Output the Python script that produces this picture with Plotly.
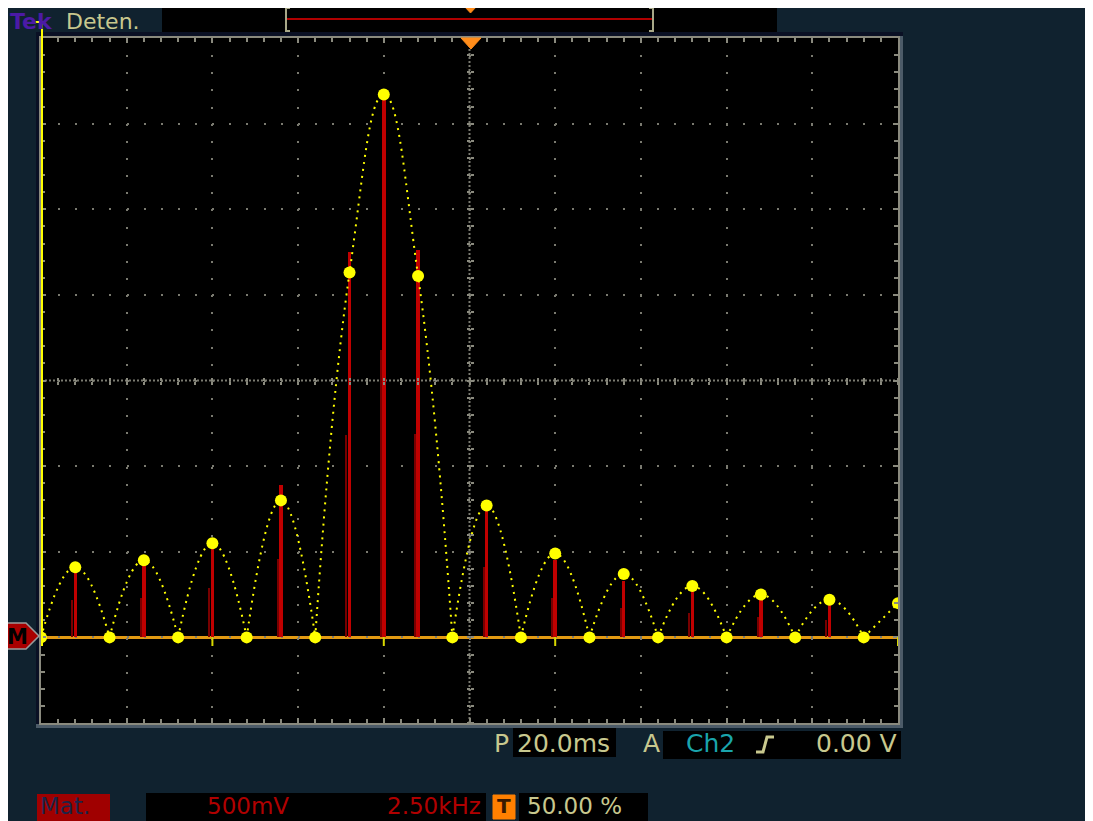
import plotly.graph_objects as go

# ---- data (FFT display: frequency in kHz, magnitude in V, 500 mV/div, 2.5 kHz/div) ----
freqs = list(range(26))
amp = [0, 0.41, 0, 0.45, 0, 0.55, 0, 0.80, 0, 2.13, 3.17, 2.11, 0, 0.77, 0,
       0.49, 0, 0.37, 0, 0.30, 0, 0.25, 0, 0.22, 0, 0.20]
stem_freqs = [1, 3, 5, 7, 9, 10, 11, 13, 15, 17, 19, 21, 23]
stem_main = [0.44, 0.47, 0.58, 0.89, 2.25, 3.17, 2.26, 0.75, 0.45, 0.33, 0.27, 0.23, 0.20]
stem_low = [0.22, 0.23, 0.29, 0.46, 1.18, 1.68, 1.19, 0.41, 0.23, 0.17, 0.14, 0.12, 0.10]
marker_freqs = [5, 10, 15, 25]

# ---- geometry (reference pixel coordinates; page body adds an 8px offset) ----
W, H = 1093, 821
OFF = 8
L, R, T, B = 41, 898, 38, 723
def px(x):
    return (x - L) / (R - L)
def py(y):
    return (B - y) / (B - T)

NAVY = "#10222f"
KHAKI = "#c8c88e"
GRID = "#7a7a70"
EDGE = "#8a8a7e"
YEL = "#ffff00"
FONT = "DejaVu Sans"

# curve split into lobes between zeros
seg_x, seg_y = [], []
start = 0
for i in range(1, len(freqs)):
    if amp[i] == 0 or i == len(freqs) - 1:
        seg_x += freqs[start:i + 1] + [None]
        seg_y += amp[start:i + 1] + [None]
        start = i

fig = go.Figure()
fig.add_trace(go.Bar(x=stem_freqs, y=stem_low, width=0.06, offset=-0.12,
                     marker=dict(color="#780000", line=dict(width=0)), showlegend=False))
fig.add_trace(go.Bar(x=stem_freqs, y=stem_main, width=0.1,
                     marker=dict(color="#c00000", line=dict(width=0)), showlegend=False))
fig.add_trace(go.Scatter(x=seg_x, y=seg_y, mode="lines", connectgaps=False,
                         line=dict(color=YEL, width=2, dash="2px,5px", shape="spline",
                                   smoothing=1.3),
                         xaxis="x2", yaxis="y2", showlegend=False, hoverinfo="skip"))
fig.add_trace(go.Scatter(x=freqs, y=amp, mode="markers",
                         marker=dict(color=YEL, size=12, line=dict(width=0)),
                         xaxis="x3", yaxis="y3", showlegend=False))

common = dict(showticklabels=False, zeroline=False, fixedrange=True)
fig.update_layout(
    width=W - OFF, height=H - OFF,
    margin=dict(l=L - OFF, r=W - R, t=T - OFF, b=H - B, pad=0),
    paper_bgcolor=NAVY, plot_bgcolor="#000000",
    barmode="overlay", bargap=0,
    xaxis=dict(range=[0, 25], tick0=0, dtick=2.5, showgrid=True, gridcolor=GRID,
               gridwidth=2, griddash="2px,15.14px", ticks="inside", ticklen=5,
               tickcolor=EDGE, tickwidth=1.5, showline=True, linecolor=EDGE,
               linewidth=1.5, mirror="ticks",
               minor=dict(dtick=0.5, tick0=0, ticks="inside", ticklen=4,
                          tickcolor=EDGE, tickwidth=1.5, showgrid=False),
               **common),
    yaxis=dict(range=[-0.5, 3.5], tick0=-0.5, dtick=0.5, showgrid=True, gridcolor=GRID,
               gridwidth=2, griddash="2px,15.12px", ticks="inside", ticklen=5,
               tickcolor=EDGE, tickwidth=1.5, showline=True, linecolor=EDGE,
               linewidth=1.5, mirror="ticks",
               minor=dict(dtick=0.1, tick0=-0.5, ticks="inside", ticklen=4,
                          tickcolor=EDGE, tickwidth=1.5, showgrid=False),
               **common),
    xaxis2=dict(range=[0, 25], overlaying="x", anchor="free", position=0.5, side="bottom",
                tick0=0, dtick=0.5, ticks="outside", ticklen=3, tickcolor=EDGE,
                tickwidth=1.5, showgrid=False, showline=False, **common),
    xaxis3=dict(range=[0, 25], overlaying="x", anchor="free", position=0.5, side="top",
                tick0=0, dtick=0.5, ticks="outside", ticklen=3, tickcolor=EDGE,
                tickwidth=1.5, showgrid=False, showline=False, **common),
    yaxis2=dict(range=[-0.5, 3.5], overlaying="y", anchor="free", position=0.5, side="left",
                tick0=-0.5, dtick=0.1, ticks="outside", ticklen=3, tickcolor=EDGE,
                tickwidth=1.5, showgrid=False, showline=False, **common),
    yaxis3=dict(range=[-0.5, 3.5], overlaying="y", anchor="free", position=0.5, side="right",
                tick0=-0.5, dtick=0.1, ticks="outside", ticklen=3, tickcolor=EDGE,
                tickwidth=1.5, showgrid=False, showline=False, **common),
    hovermode=False,
)

shapes = []
def rect(x0, y0, x1, y1, fill, layer="above", line=None):
    shapes.append(dict(type="rect", xref="paper", yref="paper",
                       x0=px(x0), x1=px(x1), y0=py(y1), y1=py(y0),
                       fillcolor=fill, line=line or dict(width=0), layer=layer))
def path(pts, color, width, fill=None, closed=False, layer="above"):
    d = "M " + " L ".join(f"{px(a):.5f},{py(b):.5f}" for a, b in pts)
    if closed:
        d += " Z"
    shapes.append(dict(type="path", xref="paper", yref="paper", path=d,
                       line=dict(color=color, width=width),
                       fillcolor=fill if fill else "rgba(0,0,0,0)", layer=layer))

# bevel around screen
rect(36, 32, 903, 36, "#0a1024", layer="below")
rect(36, 32, 40, 728, "#0a1024", layer="below")
rect(899, 36, 903, 728, "#4c5b68", layer="below")
rect(36, 724, 903, 728, "#4c5b68", layer="below")
# center graticule lines (dense dotted)
shapes.append(dict(type="line", xref="paper", yref="paper", x0=0.5, x1=0.5, y0=0, y1=1,
                   line=dict(color=GRID, width=2, dash="2px,2px"), layer="below"))
shapes.append(dict(type="line", xref="paper", yref="paper", x0=0, x1=1, y0=0.5, y1=0.5,
                   line=dict(color=GRID, width=2, dash="2px,2px"), layer="below"))
# FFT baseline
shapes.append(dict(type="line", xref="x", yref="y", x0=0, x1=25, y0=0, y1=0,
                   line=dict(color="#e39a12", width=3), layer="below"))
# small yellow markers below baseline
for f in marker_freqs:
    shapes.append(dict(type="line", xref="x", yref="paper", x0=f, x1=f,
                       y0=py(646), y1=py(637), line=dict(color="#d8d800", width=2)))
# yellow channel line at left
path([(33, 22), (42, 22), (42, 646)], YEL, 2)
# top black status bar
rect(162, 6, 777, 32, "#000000")
path([(290, 8), (286, 8), (286, 31), (290, 31)], "#a8a888", 2)
path([(649, 8), (653, 8), (653, 31), (649, 31)], "#a8a888", 2)
shapes.append(dict(type="line", xref="paper", yref="paper", x0=px(287), x1=px(652),
                   y0=py(19), y1=py(19), line=dict(color="#b00000", width=2)))
path([(464, 6), (477, 6), (470.5, 13)], "#ff8c1a", 1, fill="#ff8c1a", closed=True)
# trigger position marker
path([(461, 38), (481, 38), (471, 49)], "#ff8c1a", 1, fill="#ff8c1a", closed=True)
# M reference marker
path([(7, 623), (26, 623), (39, 636), (26, 649), (7, 649)], "#9a9a9a", 1.5,
     fill="#a80000", closed=True)
# bottom boxes
rect(513, 728, 616, 757, "#000000")
rect(663, 731, 901, 759, "#000000")
rect(37, 794, 110, 821, "#a00000")
rect(146, 793, 486, 821, "#000000")
rect(519, 793, 648, 821, "#000000")
rect(493, 795, 515, 819, "#ff8000", line=dict(color="#ff8000", width=1))
# trigger slope symbol
path([(756, 752), (763, 752), (767, 737), (774, 737)], KHAKI, 3)

fig.update_layout(shapes=shapes)

ann = []
def text(x, y, s, color, size=25, anchor="left", bold=False):
    ann.append(dict(xref="paper", yref="paper", x=px(x), y=py(y),
                    text=(f"<b>{s}</b>" if bold else s),
                    showarrow=False, xanchor=anchor, yanchor="middle",
                    font=dict(family=FONT, size=size, color=color)))

text(8, 22, "Tek", "#4c1aa6", size=22, bold=True)
text(64, 22, "Deten.", KHAKI, size=22)
text(17, 637, "M", "#000000", size=21, anchor="center", bold=True)
text(492, 743, "P", KHAKI, size=25)
text(515, 743, "20.0ms", KHAKI, size=25)
text(641, 743, "A", KHAKI, size=25)
text(684, 744, "Ch2", "#1aa4ac", size=25)
text(899, 744, "0.00 V", KHAKI, size=25, anchor="right")
text(38, 806, "Mat.", "#1c2448", size=23)
text(248, 806, "500mV", "#b00000", size=23, anchor="center")
text(483, 806, "2.50kHz", "#b00000", size=23, anchor="right")
text(504, 806, "T", "#3a1a00", size=20, anchor="center", bold=True)
text(525, 806, "50.00 %", KHAKI, size=23)
fig.update_layout(annotations=ann)

fig.write_html("out.html")
